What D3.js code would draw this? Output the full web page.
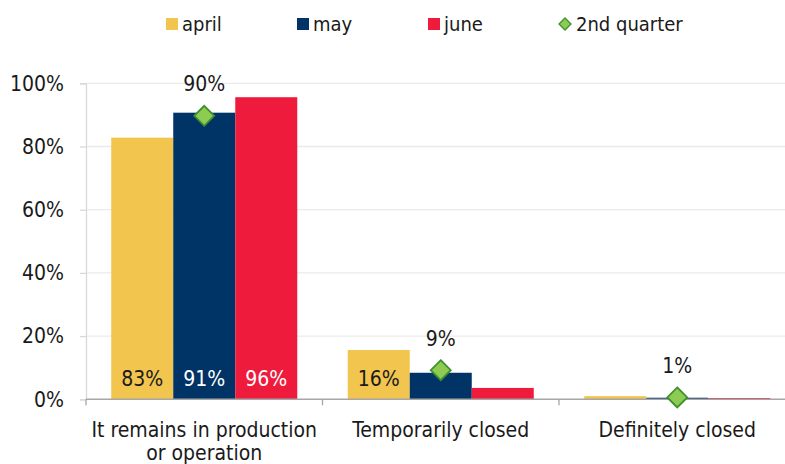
<!DOCTYPE html>
<html>
<head>
<meta charset="utf-8">
<script src="https://cdn.jsdelivr.net/npm/d3@7"></script>
<style>
    body { margin: 0; background: #fff; }
    svg { display: block; font-family: "DejaVu Sans Condensed", "DejaVu Sans", sans-serif; }
</style>
</head>
<body>
<div id="chart"></div>
<script>
const categories = [["It remains in production", "or operation"], ["Temporarily closed"], ["Definitely closed"]];
const series = ["april", "may", "june"];
const april = [82.8, 15.6, 1.0];
const may = [90.7, 8.4, 0.5];
const june = [95.6, 3.6, 0.4];
const quarter = [89.7, 9.2, 0.6];
const quarterLabels = ["90%", "9%", "1%"];
const barLabels = [["83%", "91%", "96%"], ["16%", null, null], [null, null, null]];
const yTicks = [0, 20, 40, 60, 80, 100];

const colors = {april: "#f2c54f", may: "#003366", june: "#ee1b3c"};
const labelColors = {april: "#1a1a1a", may: "#ffffff", june: "#ffffff"};

const width = 785;
const height = 464;
const margin = {top: 83.3, bottom: 64.7, left: 86, right: -10.5};
const fontSize = 21;

const values = {april: april, may: may, june: june};

const svg = d3.select("#chart")
    .append("svg")
    .attr("width", width)
    .attr("height", height);

const x0 = d3.scaleBand()
    .domain(d3.range(categories.length))
    .range([margin.left, width - margin.right])
    .padding(0);

const x1 = d3.scaleBand()
    .domain(series)
    .range([0, x0.bandwidth()])
    .paddingInner(0)
    .paddingOuter(0.407);

const y = d3.scaleLinear()
    .domain([0, 100])
    .range([height - margin.bottom, margin.top]);

// gridlines
svg.append("g")
    .selectAll("line")
    .data(yTicks.slice(1))
    .join("line")
    .attr("x1", margin.left)
    .attr("x2", width)
    .attr("y1", d => y(d))
    .attr("y2", d => y(d))
    .attr("stroke", "#ebebeb")
    .attr("stroke-width", 1.3);

// y axis
const yAxis = svg.append("g")
    .attr("transform", `translate(${margin.left},0)`)
    .call(d3.axisLeft(y).tickValues(yTicks).tickSize(6).tickPadding(16).tickFormat(d => d + "%"));
yAxis.select(".domain").attr("stroke", "#d9d9d9").attr("stroke-width", 1.3);
yAxis.selectAll(".tick line").attr("stroke", "#d9d9d9").attr("stroke-width", 1.3);
yAxis.selectAll(".tick text")
    .attr("font-size", fontSize)
    .attr("fill", "#1a1a1a")
    .attr("font-family", "DejaVu Sans Condensed, DejaVu Sans, sans-serif");

// bars
const groups = svg.append("g")
    .selectAll("g")
    .data(categories.map((c, i) => i))
    .join("g")
    .attr("transform", i => `translate(${x0(i)},0)`);

groups.selectAll("rect")
    .data(i => series.map(s => ({key: s, value: values[s][i], label: barLabels[i][series.indexOf(s)]})))
    .join("rect")
    .attr("x", d => x1(d.key))
    .attr("width", x1.bandwidth())
    .attr("y", d => y(d.value))
    .attr("height", d => y(0) - y(d.value))
    .attr("fill", d => colors[d.key]);

groups.selectAll("text")
    .data(i => series.map(s => ({key: s, label: barLabels[i][series.indexOf(s)]})).filter(d => d.label))
    .join("text")
    .attr("x", d => x1(d.key) + x1.bandwidth() / 2)
    .attr("y", y(0) - 21)
    .attr("dy", "0.35em")
    .attr("text-anchor", "middle")
    .attr("font-size", fontSize)
    .attr("fill", d => labelColors[d.key])
    .text(d => d.label);

// x axis
svg.append("line")
    .attr("x1", margin.left)
    .attr("x2", width)
    .attr("y1", y(0))
    .attr("y2", y(0))
    .attr("stroke", "#a6a6a6")
    .attr("stroke-width", 1.6);

svg.append("g")
    .selectAll("line")
    .data(d3.range(categories.length + 1))
    .join("line")
    .attr("x1", i => margin.left + i * x0.step())
    .attr("x2", i => margin.left + i * x0.step())
    .attr("y1", y(0))
    .attr("y2", y(0) + 6)
    .attr("stroke", "#a6a6a6")
    .attr("stroke-width", 1.3);

svg.append("g")
    .selectAll("text")
    .data(categories.map((c, i) => i))
    .join("text")
    .attr("x", i => x0(i) + x0.bandwidth() / 2)
    .attr("y", y(0) + 30)
    .attr("text-anchor", "middle")
    .attr("font-size", fontSize)
    .attr("fill", "#1a1a1a")
    .selectAll("tspan")
    .data(i => categories[i].map(t => ({t: t, i: i})))
    .join("tspan")
    .attr("x", d => x0(d.i) + x0.bandwidth() / 2)
    .attr("dy", (d, j) => j === 0 ? "0.35em" : 23)
    .text(d => d.t);

// 2nd quarter markers
const diamond = r => `M0,${-r}L${r},0L0,${r}L${-r},0Z`;

svg.append("g")
    .selectAll("path")
    .data(quarter)
    .join("path")
    .attr("transform", (d, i) => `translate(${x0(i) + x1("may") + x1.bandwidth() / 2},${y(d)})`)
    .attr("d", diamond(10))
    .attr("fill", "#8dcb52")
    .attr("stroke", "#3f8f2f")
    .attr("stroke-width", 1.8);

svg.append("g")
    .selectAll("text")
    .data(quarter)
    .join("text")
    .attr("x", (d, i) => x0(i) + x1("may") + x1.bandwidth() / 2)
    .attr("y", d => y(d) - 32)
    .attr("dy", "0.35em")
    .attr("text-anchor", "middle")
    .attr("font-size", fontSize)
    .attr("fill", "#1a1a1a")
    .text((d, i) => quarterLabels[i]);

// legend
const legendItems = series.concat(["2nd quarter"]);
const legend = svg.append("g")
    .selectAll("g")
    .data(legendItems)
    .join("g")
    .attr("transform", (d, i) => `translate(${166 + i * 131},24)`);

legend.filter(d => d !== "2nd quarter")
    .append("rect")
    .attr("x", 0)
    .attr("y", -6)
    .attr("width", 12)
    .attr("height", 12)
    .attr("fill", d => colors[d]);

legend.filter(d => d === "2nd quarter")
    .append("path")
    .attr("transform", "translate(6,0)")
    .attr("d", diamond(6))
    .attr("fill", "#8dcb52")
    .attr("stroke", "#3f8f2f")
    .attr("stroke-width", 1.3);

legend.append("text")
    .attr("x", d => d === "2nd quarter" ? 17 : 16)
    .attr("dy", "0.35em")
    .attr("font-size", 20)
    .attr("fill", "#1a1a1a")
    .text(d => d);
</script>
</body>
</html>
